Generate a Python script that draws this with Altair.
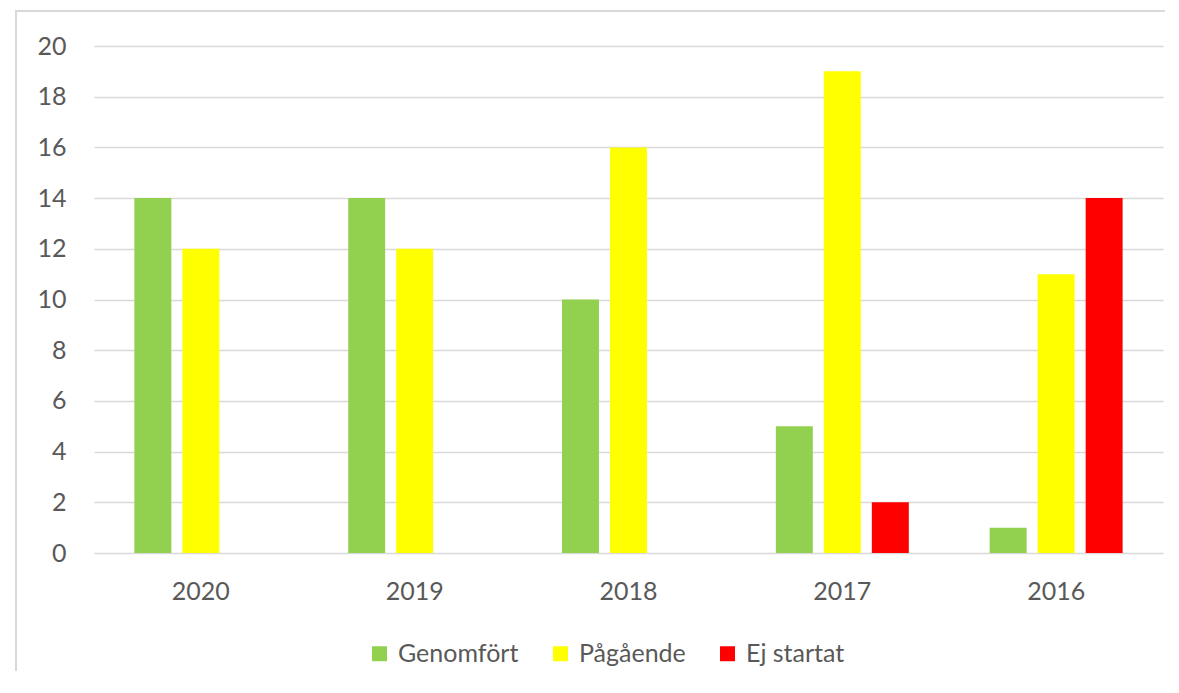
import altair as alt
import pandas as pd

years = ["2020", "2019", "2018", "2017", "2016"]
series = ["Genomfört", "Pågående", "Ej startat"]
genomfort = [14, 14, 10, 5, 1]
pagaende = [12, 12, 16, 19, 11]
ej_startat = [0, 0, 0, 2, 14]
colors = ["#92d050", "#ffff00", "#ff0000"]

rows = []
for i, y in enumerate(years):
    for s, vals in zip(series, [genomfort, pagaende, ej_startat]):
        rows.append({"year": y, "status": s, "value": vals[i]})
df = pd.DataFrame(rows)

W, H = 1069, 507
FONT = "Lato"
TXT = "#595959"

bars = alt.Chart(df).mark_bar().encode(
    x=alt.X("year:N", sort=years, title=None,
            scale=alt.Scale(paddingInner=0.3265, paddingOuter=0.163),
            axis=alt.Axis(labelAngle=0, ticks=False, domain=False, grid=False,
                          labelPadding=26, labelFontSize=25, labelColor=TXT, labelFont=FONT)),
    xOffset=alt.XOffset("status:N", sort=series,
                        scale=alt.Scale(paddingInner=0.23, paddingOuter=0.115)),
    y=alt.Y("value:Q", title=None,
            scale=alt.Scale(domain=[0, 20], nice=False),
            axis=alt.Axis(values=list(range(0, 21, 2)), ticks=False, domain=False,
                          gridColor="#d9d9d9", gridWidth=1.5, labelPadding=28,
                          labelFontSize=25, labelColor=TXT, labelFont=FONT)),
    color=alt.Color("status:N", sort=series, title=None,
                    scale=alt.Scale(domain=series, range=colors),
                    legend=alt.Legend(orient="none", legendX=273, legendY=595,
                                      direction="horizontal", symbolType="square",
                                      symbolSize=225, symbolStrokeWidth=0,
                                      labelFontSize=25, labelColor=TXT, labelFont=FONT,
                                      labelOffset=6, columnPadding=29)),
)

frame = alt.Chart(df).mark_rect(fill=None, stroke="#d9d9d9", strokeWidth=1.5).encode(
    x=alt.value(-78), x2=alt.value(W + 40), y=alt.value(-35), y2=alt.value(H + 160))

chart = alt.layer(bars, frame).properties(
    width=W, height=H,
    autosize=alt.AutoSizeParams(type="none"),
    padding={"left": 86, "top": 38, "right": 2, "bottom": 118},
).configure(font=FONT, view=alt.ViewConfig(stroke=None, strokeWidth=0))

chart.save("out.html", embed_options={"renderer": "svg", "actions": False})
